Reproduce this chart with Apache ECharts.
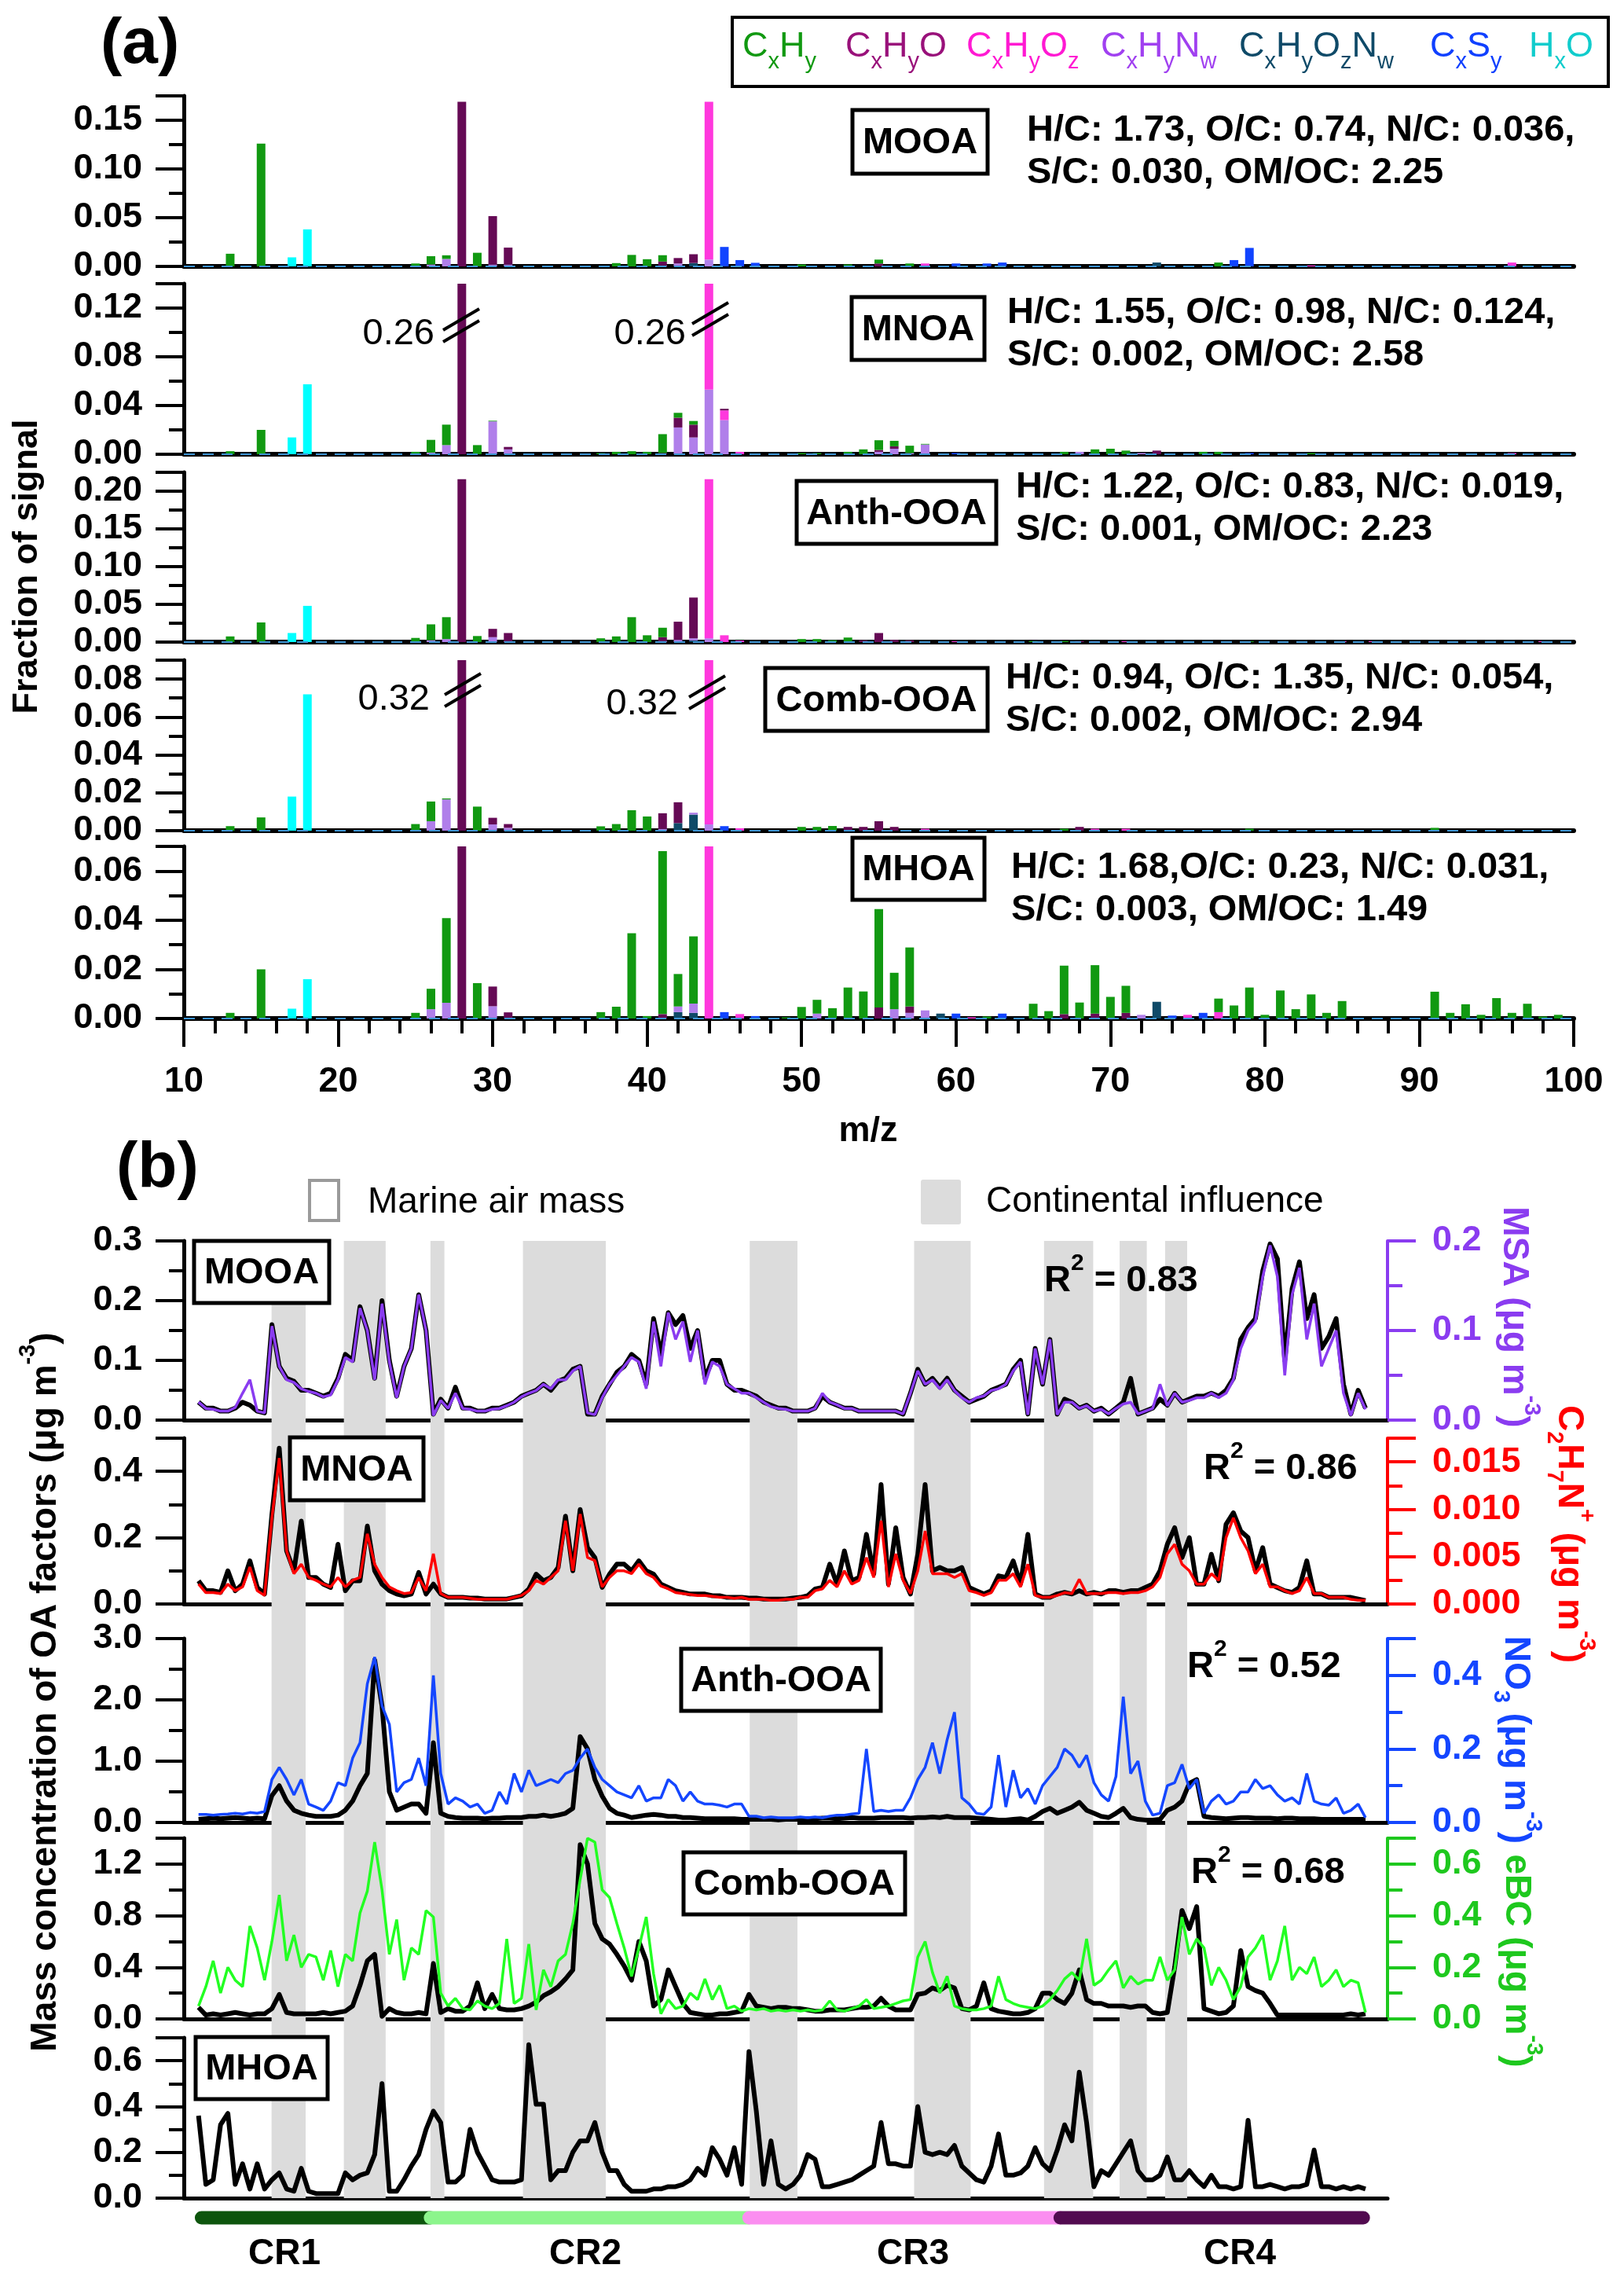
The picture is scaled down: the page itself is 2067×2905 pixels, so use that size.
<!DOCTYPE html>
<html>
<head>
<meta charset="utf-8">
<script src="https://cdn.jsdelivr.net/npm/echarts/dist/echarts.min.js"></script>
<style>
html,body{margin:0;padding:0;background:#fff}
#chart{width:2067px;height:2905px}
</style>
</head>
<body>
<div id="chart"></div>
<script>
var FONT = 'Arial, "Liberation Sans", Helvetica, sans-serif';

// ---------------- panel (a): fraction of signal, [m/z, value] per ion family
var MOOA_CH   = [[13,.013],[15,.126],[25,.003],[26,.0085],[27,.0037],[29,.014],[38,.0034],[39,.0118],[40,.0074],[41,.0065],[50,.002],[53,.002],[55,.004],[57,.003],[77,.004],[97,.001]];
var MOOA_CHO  = [[28,.169],[30,.0496],[31,.0173],[41,.004],[42,.0056],[43,.009],[55,.003]];
var MOOA_CHOZ = [[44,.162],[58,.003],[83,.001],[96,.004]];
var MOOA_CHN  = [[26,.002],[27,.0077],[30,.002],[31,.002],[41,.001],[42,.003],[44,.007]];
var MOOA_CHON = [[43,.0035],[73,.004]];
var MOOA_CS   = [[45,.02],[46,.0065],[47,.0037],[60,.003],[62,.003],[63,.004],[78,.0065],[79,.019]];
var MOOA_HO   = [[17,.0093],[18,.038]];

var MNOA_CH   = [[13,.0025],[15,.02],[25,.002],[26,.0105],[27,.0168],[29,.0075],[30,.0005],[37,.001],[38,.002],[39,.0025],[40,.002],[41,.0155],[42,.004],[43,.003],[50,.001],[51,.001],[53,.002],[54,.004],[55,.008],[56,.0045],[57,.006],[58,.0005],[67,.002],[69,.004],[70,.0045],[71,.003],[76,.002],[77,.002],[83,.001]];
var MNOA_CHO  = [[28,.26],[31,.002],[41,.001],[42,.008],[43,.0105],[45,.0013],[55,.0015],[56,.002],[73,.003]];
var MNOA_CHOZ = [[44,.207],[45,.008],[46,.002],[96,.001]];
var MNOA_CHN  = [[26,.0013],[27,.0075],[30,.027],[31,.004],[42,.022],[43,.0138],[44,.053],[45,.028],[55,.002],[56,.0045],[57,.001],[58,.008],[68,.002],[72,.001]];
var MNOA_CHON = [];
var MNOA_CS   = [[47,.0005],[60,.001],[79,.001]];
var MNOA_HO   = [[17,.0138],[18,.0575]];

var ANTH_CH   = [[13,.0075],[15,.026],[25,.0055],[26,.021],[27,.029],[29,.008],[37,.005],[38,.0075],[39,.033],[40,.009],[41,.0125],[50,.004],[51,.004],[52,.0025],[53,.006],[65,.0015],[67,.0015],[79,.001],[91,.001]];
var ANTH_CHO  = [[28,.216],[30,.011],[31,.0105],[41,.005],[42,.024],[43,.054],[54,.0025],[55,.012],[56,.003],[57,.0025],[68,.0015],[69,.0015]];
var ANTH_CHOZ = [[44,.211],[45,.009],[46,.002],[60,.001],[71,.001],[85,.001],[87,.001],[98,.001]];
var ANTH_CHN  = [[26,.0025],[27,.004],[30,.0065],[31,.0015],[41,.0015],[42,.003],[43,.003],[44,.005]];
var ANTH_CHON = [[43,.002]];
var ANTH_CS   = [];
var ANTH_HO   = [[17,.012],[18,.048]];

var COMB_CH   = [[13,.0024],[15,.007],[25,.0035],[26,.0104],[27,.0005],[29,.0127],[37,.0023],[38,.0035],[39,.0108],[40,.0075],[50,.002],[51,.002],[52,.0025],[67,.001],[79,.001],[91,.0015]];
var COMB_CHO  = [[28,.32],[30,.0035],[31,.002],[41,.0082],[42,.011],[53,.002],[54,.002],[55,.005],[56,.002],[68,.002]];
var COMB_CHOZ = [[44,.3167],[46,.0013],[58,.001],[69,.001],[71,.001]];
var COMB_CHN  = [[26,.005],[27,.0165],[30,.0033],[31,.0015],[41,.001],[43,.001],[44,.0033]];
var COMB_CHON = [[42,.004],[43,.0085]];
var COMB_CS   = [[45,.0024]];
var COMB_HO   = [[17,.018],[18,.072]];

var MHOA_CH   = [[13,.0023],[15,.02],[25,.0023],[26,.0083],[27,.0344],[29,.0144],[37,.0026],[38,.0048],[39,.0347],[40,.001],[41,.0663],[42,.0132],[43,.0273],[49,.0005],[50,.0047],[51,.0056],[52,.0042],[53,.0126],[54,.011],[55,.040],[56,.0148],[57,.024],[62,.0008],[65,.006],[66,.003],[67,.0197],[68,.0065],[69,.0197],[70,.0088],[71,.011],[77,.0055],[78,.0053],[79,.0126],[80,.0015],[81,.0114],[82,.0038],[83,.0098],[84,.0023],[85,.0071],[91,.0109],[92,.0023],[93,.0058],[94,.0015],[95,.0083],[96,.0023],[97,.006],[98,.0008],[99,.0015]];
var MHOA_CHO  = [[28,.075],[30,.008],[31,.0025],[41,.0018],[55,.0045],[57,.0026],[67,.0018],[69,.002],[71,.0023]];
var MHOA_CHOZ = [[44,.075],[46,.0018],[61,.0005],[75,.0015],[77,.0026]];
var MHOA_CHN  = [[26,.0038],[27,.0064],[30,.005],[42,.0023],[43,.0038],[51,.002],[56,.0038],[57,.0023],[58,.0033],[72,.0015]];
var MHOA_CHON = [[42,.0026],[43,.0023],[59,.002],[73,.0068]];
var MHOA_CS   = [[45,.0026],[47,.001],[60,.002],[63,.002],[74,.0012],[76,.0023]];
var MHOA_HO   = [[17,.004],[18,.016]];

// ---------------- panel (b): time series (sample index 2..161)
var MOOA_TS = [.03,.02,.02,.015,.015,.02,.03,.025,.015,.012,
 .16,.09,.07,.065,.05,.05,.045,.04,.045,.07,
 .11,.1,.19,.15,.07,.2,.1,.04,.09,.12,
 .21,.15,.01,.035,.02,.055,.02,.02,.015,.015,
 .02,.02,.025,.03,.04,.045,.05,.06,.05,.065,
 .07,.085,.09,.01,.01,.04,.06,.08,.09,.11,
 .1,.06,.17,.11,.18,.16,.175,.12,.15,.07,
 .1,.1,.06,.05,.05,.045,.04,.03,.025,.02,
 .02,.015,.015,.015,.02,.04,.03,.025,.02,.02,
 .015,.015,.015,.015,.015,.015,.01,.045,.085,.06,
 .07,.055,.07,.05,.04,.03,.035,.04,.05,.055,
 .06,.085,.1,.01,.12,.06,.135,.01,.035,.03,
 .02,.025,.015,.02,.01,.02,.03,.07,.01,.015,
 .02,.035,.025,.045,.03,.035,.04,.04,.045,.04,
 .05,.07,.135,.155,.17,.25,.295,.27,.1,.22,
 .265,.17,.21,.12,.14,.17,.06,.01,.05,.02];
var MSA_TS = [.02,.013,.012,.01,.01,.014,.03,.045,.01,.008,
 .105,.06,.045,.042,.035,.032,.03,.026,.028,.045,
 .07,.065,.125,.1,.045,.13,.065,.025,.06,.08,
 .14,.1,.005,.022,.013,.03,.013,.012,.01,.01,
 .012,.013,.016,.02,.026,.03,.033,.04,.035,.045,
 .045,.055,.06,.008,.006,.025,.04,.05,.06,.07,
 .065,.035,.11,.06,.12,.09,.11,.065,.1,.04,
 .065,.06,.04,.035,.03,.03,.025,.02,.015,.013,
 .012,.01,.01,.01,.013,.03,.02,.017,.013,.013,
 .01,.01,.01,.01,.01,.01,.007,.03,.055,.04,
 .045,.035,.045,.033,.025,.02,.025,.027,.033,.035,
 .04,.055,.065,.006,.08,.04,.09,.006,.02,.02,
 .013,.016,.01,.012,.007,.013,.018,.02,.007,.01,
 .013,.04,.016,.03,.02,.022,.025,.025,.03,.025,
 .03,.045,.08,.1,.11,.16,.195,.16,.05,.14,
 .17,.09,.13,.06,.08,.1,.03,.005,.03,.012];
var MNOA_TS = [.07,.04,.04,.035,.1,.04,.06,.13,.05,.03,
 .27,.47,.16,.1,.25,.08,.08,.06,.05,.18,
 .04,.07,.07,.235,.1,.06,.04,.03,.025,.03,
 .095,.03,.06,.03,.02,.02,.02,.018,.018,.015,
 .015,.015,.015,.02,.025,.045,.09,.07,.08,.11,
 .265,.1,.285,.17,.14,.05,.09,.12,.12,.1,
 .13,.1,.09,.06,.05,.04,.035,.03,.03,.03,
 .025,.025,.02,.02,.02,.018,.018,.015,.015,.015,
 .015,.018,.02,.025,.045,.05,.12,.06,.16,.07,
 .08,.21,.09,.36,.06,.23,.08,.03,.15,.36,
 .1,.11,.1,.1,.11,.05,.04,.03,.04,.085,
 .08,.13,.06,.21,.03,.02,.02,.03,.035,.03,
 .04,.03,.035,.03,.04,.04,.035,.04,.04,.05,
 .06,.1,.18,.23,.14,.2,.06,.06,.15,.07,
 .24,.275,.22,.2,.1,.17,.06,.05,.04,.035,
 .05,.13,.03,.03,.02,.02,.02,.02,.015,.01];
var C2H7N_TS = [.0021,.0012,.0012,.0011,.0021,.0014,.0018,.0039,.0014,.0009,
 .0091,.0154,.0056,.0032,.0042,.0028,.0025,.0021,.0018,.0028,
 .0018,.0025,.0028,.0074,.0042,.0028,.0018,.0014,.0011,.0012,
 .0028,.0014,.0053,.0011,.0007,.0007,.0007,.0006,.0005,.0005,
 .0005,.0005,.0005,.0007,.0009,.0014,.0025,.0021,.0028,.0035,
 .0088,.0035,.0095,.0049,.0046,.0018,.0028,.0035,.0035,.0032,
 .0042,.0032,.0028,.0019,.0016,.0012,.0011,.001,.0009,.0009,
 .0008,.0007,.0007,.0006,.0007,.0005,.0005,.0005,.0004,.0004,
 .0005,.0005,.0007,.0007,.0014,.0016,.0025,.0018,.0035,.0021,
 .0025,.0049,.0028,.0088,.0018,.0053,.0025,.0011,.0035,.0077,
 .0032,.0032,.0032,.0028,.0032,.0014,.0012,.0009,.0012,.0025,
 .0025,.0032,.0018,.0042,.0009,.0007,.0007,.0009,.0012,.0011,
 .0026,.0011,.0011,.0011,.0012,.0012,.0011,.0012,.0012,.0014,
 .0018,.0028,.0053,.0063,.0042,.0035,.0021,.0021,.0032,.0025,
 .007,.0091,.007,.0056,.0032,.0042,.0018,.0018,.0014,.0011,
 .0014,.0028,.0011,.0011,.0007,.0007,.0007,.0005,.0004,.0004];
var ANTH_TS = [.05,.06,.07,.06,.07,.08,.07,.06,.07,.06,
 .44,.6,.35,.2,.15,.12,.1,.1,.1,.12,
 .2,.35,.6,.8,2.65,1.9,.5,.2,.25,.3,
 .3,.15,1.3,.15,.1,.08,.07,.07,.07,.06,
 .07,.07,.08,.08,.08,.1,.1,.12,.1,.12,
 .15,.23,1.4,1.2,.7,.43,.23,.15,.12,.08,
 .1,.12,.13,.12,.1,.1,.08,.08,.07,.06,
 .06,.06,.06,.06,.05,.05,.05,.05,.05,.04,
 .05,.05,.05,.06,.06,.07,.07,.06,.07,.08,
 .07,.07,.07,.08,.08,.08,.08,.07,.08,.08,
 .09,.08,.1,.08,.08,.08,.07,.06,.05,.04,
 .04,.05,.06,.04,.1,.18,.23,.15,.2,.25,
 .33,.2,.15,.1,.08,.15,.23,.08,.05,.04,
 .04,.05,.2,.25,.35,.64,.7,.1,.08,.07,
 .06,.07,.08,.08,.07,.07,.07,.06,.07,.07,
 .06,.06,.06,.05,.05,.05,.05,.05,.05,.05];
var NO3_TS = [.022,.022,.02,.022,.023,.025,.023,.027,.025,.03,
 .117,.15,.117,.075,.117,.05,.042,.033,.058,.108,
 .1,.175,.217,.377,.45,.317,.267,.083,.108,.117,
 .175,.1,.4,.133,.05,.067,.058,.042,.05,.025,
 .033,.083,.05,.133,.083,.142,.1,.108,.117,.108,
 .133,.142,.175,.2,.15,.117,.1,.083,.075,.067,
 .1,.058,.067,.067,.117,.1,.058,.083,.058,.05,
 .05,.047,.042,.05,.05,.017,.017,.013,.015,.013,
 .013,.013,.015,.013,.015,.013,.017,.02,.02,.023,
 .025,.2,.03,.033,.03,.033,.033,.067,.117,.15,
 .217,.133,.225,.3,.067,.05,.025,.022,.042,.183,
 .042,.142,.067,.092,.05,.1,.125,.15,.2,.183,
 .15,.183,.108,.075,.058,.125,.342,.133,.167,.058,
 .02,.025,.1,.108,.158,.092,.117,.025,.058,.075,
 .05,.058,.083,.083,.117,.092,.1,.075,.058,.067,
 .05,.133,.058,.05,.047,.067,.025,.033,.05,.013];
var COMB_TS = [.09,.03,.04,.03,.04,.05,.04,.03,.04,.04,
 .08,.19,.05,.04,.04,.04,.04,.05,.04,.05,
 .06,.1,.26,.45,.5,.02,.08,.05,.04,.04,
 .05,.04,.43,.05,.08,.06,.06,.1,.28,.08,
 .19,.08,.07,.07,.08,.1,.13,.18,.21,.25,
 .31,.38,1.35,1.2,.74,.62,.58,.5,.41,.3,
 .6,.45,.1,.15,.38,.25,.12,.05,.04,.03,
 .03,.04,.04,.05,.06,.19,.1,.09,.08,.09,
 .09,.08,.08,.07,.06,.06,.07,.07,.07,.08,
 .09,.09,.1,.16,.1,.07,.07,.07,.19,.2,
 .24,.22,.26,.24,.08,.07,.1,.28,.08,.06,
 .05,.04,.04,.05,.08,.2,.2,.15,.12,.2,
 .38,.15,.12,.12,.1,.1,.1,.09,.1,.1,
 .05,.04,.05,.4,.84,.7,.87,.08,.06,.04,
 .05,.1,.53,.25,.22,.2,.12,.03,.03,.03,
 .03,.03,.03,.03,.03,.03,.03,.04,.03,.04];
var EBC_TS = [.05,.125,.225,.1,.2,.15,.125,.36,.275,.15,
 .3,.48,.225,.325,.2,.25,.24,.15,.265,.125,
 .25,.225,.41,.495,.685,.5,.25,.385,.15,.275,
 .25,.42,.395,.1,.05,.08,.04,.035,.07,.05,
 .04,.06,.31,.06,.08,.29,.035,.19,.125,.225,
 .25,.37,.54,.7,.685,.5,.47,.37,.275,.165,
 .275,.395,.175,.02,.075,.04,.05,.1,.075,.155,
 .075,.13,.04,.05,.03,.04,.035,.04,.03,.035,
 .03,.035,.03,.035,.03,.035,.07,.035,.03,.04,
 .05,.075,.04,.045,.05,.06,.07,.075,.24,.3,
 .18,.1,.165,.05,.04,.035,.035,.04,.05,.165,
 .075,.06,.05,.045,.04,.05,.075,.11,.155,.18,
 .15,.31,.13,.15,.19,.225,.12,.165,.135,.15,
 .15,.24,.15,.19,.395,.25,.31,.275,.13,.2,
 .15,.075,.125,.24,.275,.325,.15,.225,.36,.15,
 .2,.175,.24,.125,.15,.19,.125,.15,.14,.025];
var MHOA_TS = [.36,.06,.08,.32,.37,.06,.15,.04,.15,.04,
 .08,.11,.04,.03,.13,.03,.02,.02,.02,.02,
 .11,.08,.1,.11,.19,.5,.03,.03,.08,.14,
 .19,.3,.38,.33,.07,.07,.1,.3,.2,.14,
 .08,.07,.07,.07,.08,.67,.41,.41,.08,.12,
 .12,.2,.25,.25,.33,.2,.12,.12,.06,.03,
 .03,.03,.04,.04,.05,.05,.06,.08,.13,.1,
 .22,.17,.1,.22,.06,.64,.38,.06,.25,.06,
 .04,.06,.1,.19,.17,.05,.05,.06,.07,.08,
 .1,.12,.14,.33,.15,.15,.14,.14,.4,.2,
 .19,.2,.19,.23,.14,.11,.08,.07,.14,.28,
 .1,.1,.11,.14,.22,.15,.12,.21,.32,.25,
 .55,.33,.05,.12,.1,.15,.2,.25,.12,.08,
 .08,.1,.18,.08,.08,.12,.08,.05,.1,.05,
 .05,.04,.05,.34,.05,.05,.06,.05,.04,.05,
 .05,.06,.21,.05,.05,.04,.05,.04,.05,.04];

// continental-influence periods and cruise legs, in sample index units
var BANDS = [[11.95,16.6],[21.8,27.5],[33.6,35.5],[46.2,57.5],[77.1,83.6],[99.5,107.2],[117.2,123.9],[127.5,131.2],[133.7,136.7]];
var LEGS = [['CR1',2.4,33.6,'#0d550d'],['CR2',33.6,77,'#8cf58c'],['CR3',77,119.4,'#fb8ef0'],['CR4',119.4,160.7,'#520a50']];

var tIndex = [];
for (var k = 0; k < MOOA_TS.length; k++) tIndex.push(k + 2);
var mzCats = [];
for (var z = 10; z <= 100; z++) mzCats.push(String(z));

// ---------------- styling tables
var FAMS = [ // stacking order, bottom to top
  {key:'CHON', color:'#0f4a68'},
  {key:'CS',   color:'#1144ff'},
  {key:'HO',   color:'#00ffff'},
  {key:'CHN',  color:'#b07fea'},
  {key:'CHOZ', color:'#ff38dd'},
  {key:'CHO',  color:'#650a55'},
  {key:'CH',   color:'#119911'}
];

var A_PANELS = [
  {name:'MOOA', top:122, h:217, max:.175, step:.05, box:[1085,140,172,81], st:[1307,166],
   lines:['H/C: 1.73, O/C: 0.74, N/C: 0.036,','S/C: 0.030, OM/OC: 2.25'],
   fam:{CH:MOOA_CH,CHO:MOOA_CHO,CHOZ:MOOA_CHOZ,CHN:MOOA_CHN,CHON:MOOA_CHON,CS:MOOA_CS,HO:MOOA_HO}},
  {name:'MNOA', top:361, h:217, max:.14, step:.04, box:[1084,378,169,80], st:[1282,398],
   lines:['H/C: 1.55, O/C: 0.98, N/C: 0.124,','S/C: 0.002, OM/OC: 2.58'],
   fam:{CH:MNOA_CH,CHO:MNOA_CHO,CHOZ:MNOA_CHOZ,CHN:MNOA_CHN,CHON:MNOA_CHON,CS:MNOA_CS,HO:MNOA_HO}},
  {name:'Anth-OOA', top:601, h:216, max:.225, step:.05, box:[1014,612,254,80], st:[1293,620],
   lines:['H/C: 1.22, O/C: 0.83, N/C: 0.019,','S/C: 0.001, OM/OC: 2.23'],
   fam:{CH:ANTH_CH,CHO:ANTH_CHO,CHOZ:ANTH_CHOZ,CHN:ANTH_CHN,CHON:ANTH_CHON,CS:ANTH_CS,HO:ANTH_HO}},
  {name:'Comb-OOA', top:840, h:217, max:.09, step:.02, box:[974,850,283,80], st:[1280,863],
   lines:['H/C: 0.94, O/C: 1.35, N/C: 0.054,','S/C: 0.002, OM/OC: 2.94'],
   fam:{CH:COMB_CH,CHO:COMB_CHO,CHOZ:COMB_CHOZ,CHN:COMB_CHN,CHON:COMB_CHON,CS:COMB_CS,HO:COMB_HO}},
  {name:'MHOA', top:1077, h:219, max:.07, step:.02, box:[1085,1066,168,79], st:[1287,1104],
   lines:['H/C: 1.68,O/C: 0.23, N/C: 0.031,','S/C: 0.003, OM/OC: 1.49'],
   fam:{CH:MHOA_CH,CHO:MHOA_CHO,CHOZ:MHOA_CHOZ,CHN:MHOA_CHN,CHON:MHOA_CHON,CS:MHOA_CS,HO:MHOA_HO}}
];

var B_PANELS = [
  {name:'MOOA', top:1579, h:228, max:.3, step:.1, oa:MOOA_TS, tr:MSA_TS, trColor:'#8a3cf0', axColor:'#8a3cf0', trMax:.2, trStep:.1, trDig:1, box:[247,1579,172,79], r2:['0.83',1329,1630]},
  {name:'MNOA', top:1830, h:211, max:.5, step:.2, oa:MNOA_TS, tr:C2H7N_TS, trColor:'#ff0000', axColor:'#ff0000', trMax:.0175, trStep:.005, trDig:3, box:[369,1829,170,80], r2:['0.86',1532,1869]},
  {name:'Anth-OOA', top:2085, h:234, max:3, step:1, oa:ANTH_TS, tr:NO3_TS, trColor:'#1446ff', axColor:'#1446ff', trMax:.5, trStep:.2, trDig:1, box:[867,2098,254,79], r2:['0.52',1511,2121]},
  {name:'Comb-OOA', top:2339, h:230, max:1.4, step:.4, oa:COMB_TS, tr:EBC_TS, trColor:'#22ff22', axColor:'#1ec81e', trMax:.7, trStep:.2, trDig:1, box:[870,2357,282,79], r2:['0.68',1516,2383]},
  {name:'MHOA', top:2593, h:204, max:.7, step:.2, oa:MHOA_TS, tr:null, box:[249,2592,168,79]}
];

// ---------------- helpers
function dense(list) {
  var m = {}, out = [];
  list.forEach(function (p) { m[p[0]] = p[1]; });
  for (var z = 10; z <= 100; z++) out.push(m[z] || 0);
  return out;
}
function pairs(vals) { return vals.map(function (v, i) { return [tIndex[i], v]; }); }
function onStep(v, step) { var r = v / step; return Math.abs(r - Math.round(r)) < 1e-6; }

function valueAxis(gi, max, step, dig, color, right) {
  return {
    gridIndex: gi, type: 'value', min: 0, max: max, interval: step, position: right ? 'right' : 'left',
    axisLine: {show: true, onZero: false, lineStyle: {color: color, width: right ? 4 : 5}},
    axisTick: {show: true, length: 36, lineStyle: {color: color, width: 4}},
    minorTick: {show: true, splitNumber: 2, length: 19, lineStyle: {color: color, width: 4}},
    splitLine: {show: false}, minorSplitLine: {show: false},
    axisLabel: {color: color, fontSize: 45, fontWeight: 'bold', fontFamily: FONT, margin: right ? 57 : 53,
      formatter: function (v) { return onStep(v, step) ? v.toFixed(dig) : ''; }}
  };
}

function txt(x, y, text, o) {
  o = o || {};
  var st = {
    text: text, fill: o.color || '#000',
    fontSize: o.size || 47, fontWeight: o.weight || 'bold', fontFamily: FONT,
    align: o.align || 'left', verticalAlign: 'middle',
    textAlign: o.align || 'left', textVerticalAlign: 'middle'
  };
  if (o.rich) st.rich = o.rich;
  return {type: 'text', x: x, y: y, rotation: o.rotation || 0, z: 30, silent: true, style: st};
}
function boxLabel(b, label) {
  return [
    {type: 'rect', z: 25, silent: true, shape: {x: b[0], y: b[1], width: b[2], height: b[3]},
     style: {fill: '#fff', stroke: '#000', lineWidth: 5}},
    txt(b[0] + b[2] / 2, b[1] + b[3] / 2 + 2, label, {align: 'center', size: 47})
  ];
}
function richSet(size, weight, color) {
  return {
    b:   {fontSize: size, fontWeight: weight, fontFamily: FONT, fill: color, color: color},
    s:   {fontSize: Math.round(size * 0.64), fontWeight: weight, fontFamily: FONT, fill: color, color: color, padding: [38, 0, 0, 0]},
    sup: {fontSize: Math.round(size * 0.64), fontWeight: weight, fontFamily: FONT, fill: color, color: color, padding: [0, 0, 44, 0]}
  };
}

// ---------------- build option
var grids = [], xAxes = [], yAxes = [], series = [], graphics = [];
var CAT_AXIS0 = 12; // category axes for the bars come after the 12 other x axes

A_PANELS.forEach(function (p, i) {
  var last = i === A_PANELS.length - 1;
  grids.push({left: 234, right: 64, top: p.top, height: p.h});
  xAxes.push({
    gridIndex: i, type: 'value', min: 10, max: 100, interval: 10, position: 'bottom',
    axisLine: {onZero: false, lineStyle: {color: '#000', width: 6}},
    axisTick: {show: last, length: 36, lineStyle: {color: '#000', width: 4}},
    minorTick: {show: last, splitNumber: 5, length: 19, lineStyle: {color: '#000', width: 4}},
    axisLabel: {show: last, color: '#000', fontSize: 45, fontWeight: 'bold', fontFamily: FONT, margin: 58},
    splitLine: {show: false}
  });
  yAxes.push(valueAxis(i, p.max, p.step, 2, '#000', false));
  FAMS.forEach(function (f, fi) {
    var s = {
      type: 'bar', xAxisIndex: CAT_AXIS0 + i, yAxisIndex: i, stack: 'ms' + i, barWidth: 11, clip: true,
      data: dense(p.fam[f.key]), itemStyle: {color: f.color}, silent: true, z: 2
    };
    if (fi === 0) {
      s.markLine = {silent: true, symbol: 'none', label: {show: false}, animation: false,
        lineStyle: {color: '#3c93d2', type: [14, 10], width: 2}, data: [{yAxis: 0}]};
    }
    series.push(s);
  });
  graphics = graphics.concat(boxLabel(p.box, p.name));
  graphics.push(txt(p.st[0], p.st[1], p.lines[0], {size: 47}));
  graphics.push(txt(p.st[0], p.st[1] + 54, p.lines[1], {size: 47}));
});

B_PANELS.forEach(function (p, j) {
  var gi = 5 + j;
  grids.push({left: 234, right: 301, top: p.top, height: p.h});
  xAxes.push({gridIndex: gi, type: 'value', min: 0, max: 164,
    axisLine: {onZero: false, lineStyle: {color: '#000', width: 5}},
    axisTick: {show: false}, axisLabel: {show: false}, splitLine: {show: false}});
  yAxes.push(valueAxis(gi, p.max, p.step, 1, '#000', false));
  series.push({type: 'line', xAxisIndex: gi, yAxisIndex: gi, data: pairs(p.oa), symbol: 'none',
    lineStyle: {color: '#000', width: 6, join: 'round'}, z: 3, silent: true});
  graphics = graphics.concat(boxLabel(p.box, p.name));
});
B_PANELS.forEach(function (p, j) {
  if (!p.tr) return;
  yAxes.push(valueAxis(5 + j, p.trMax, p.trStep, p.trDig, p.axColor, true));
  series.push({type: 'line', xAxisIndex: 5 + j, yAxisIndex: yAxes.length - 1, data: pairs(p.tr), symbol: 'none',
    lineStyle: {color: p.trColor, width: 3.5}, z: 4, silent: true});
  graphics.push(txt(p.r2[1], p.r2[2], '{b|R}{sup|2}{b| = ' + p.r2[0] + '}', {size: 47, rich: richSet(47, 'bold', '#000')}));
});

// continental influence shading (spans all of panel b)
grids.push({left: 234, right: 301, top: 1579, height: 1218});
xAxes.push({gridIndex: 10, type: 'value', min: 0, max: 164, show: false});
yAxes.push({gridIndex: 10, type: 'value', min: 0, max: 1, show: false});
series.push({type: 'line', xAxisIndex: 10, yAxisIndex: yAxes.length - 1, data: [[0, -1]], symbol: 'none',
  lineStyle: {opacity: 0}, z: 1, silent: true,
  markArea: {silent: true, itemStyle: {color: '#dcdcdc'},
    data: BANDS.map(function (b) { return [{xAxis: b[0]}, {xAxis: b[1]}]; })}});

// cruise legs bar
grids.push({left: 234, right: 301, top: 2813, height: 18});
xAxes.push({gridIndex: 11, type: 'value', min: 0, max: 164, show: false});
yAxes.push({gridIndex: 11, type: 'value', min: -1, max: 1, show: false});
LEGS.forEach(function (l, i) {
  series.push({type: 'line', xAxisIndex: 11, yAxisIndex: yAxes.length - 1, data: [[l[1], 0], [l[2], 0]],
    symbol: 'none', lineStyle: {color: l[3], width: 17, cap: 'round'}, z: 3 + i, silent: true});
});

// hidden m/z category axes that carry the stacked bars
A_PANELS.forEach(function (p, i) {
  xAxes.push({gridIndex: i, type: 'category', data: mzCats, boundaryGap: false, show: false});
});

// ---------------- texts of panel (a)
graphics.push(txt(128, 57, '(a)', {size: 82}));
graphics.push({type: 'rect', z: 25, silent: true, shape: {x: 932, y: 22, width: 1115, height: 88},
  style: {fill: '#fff', stroke: '#000', lineWidth: 4}});
[
  [945,  '{b|C}{s|x}{b|H}{s|y}', '#119911'],
  [1076, '{b|C}{s|x}{b|H}{s|y}{b|O}', '#99117a'],
  [1230, '{b|C}{s|x}{b|H}{s|y}{b|O}{s|z}', '#ff19d2'],
  [1401, '{b|C}{s|x}{b|H}{s|y}{b|N}{s|w}', '#a040f0'],
  [1577, '{b|C}{s|x}{b|H}{s|y}{b|O}{s|z}{b|N}{s|w}', '#0f4a68'],
  [1820, '{b|C}{s|x}{b|S}{s|y}', '#1040ff'],
  [1946, '{b|H}{s|x}{b|O}', '#10cccc']
].forEach(function (l) {
  graphics.push(txt(l[0], 60, l[1], {size: 45, weight: 'normal', color: l[2], rich: richSet(45, 'normal', l[2])}));
});
graphics.push(txt(35, 721, 'Fraction of signal', {size: 45, align: 'center', rotation: Math.PI / 2}));
graphics.push(txt(1105, 1440, 'm/z', {size: 45, align: 'center'}));

// axis break marks for the clipped m/z 28 and 44 peaks
[[587, 414, '0.26', 553, 425], [904, 406, '0.26', 873, 425], [589, 878, '0.32', 547, 890], [900, 881, '0.32', 863, 896]].forEach(function (b) {
  graphics.push({type: 'line', z: 28, silent: true, shape: {x1: b[0] - 23, y1: b[1] + 6, x2: b[0] + 23, y2: b[1] - 21}, style: {stroke: '#000', lineWidth: 4}});
  graphics.push({type: 'line', z: 28, silent: true, shape: {x1: b[0] - 23, y1: b[1] + 21, x2: b[0] + 23, y2: b[1] - 6}, style: {stroke: '#000', lineWidth: 4}});
  graphics.push(txt(b[3], b[4], b[2], {size: 47, weight: 'normal', align: 'right'}));
});

// ---------------- texts of panel (b)
graphics.push(txt(148, 1487, '(b)', {size: 82}));
graphics.push({type: 'rect', z: 25, silent: true, shape: {x: 394, y: 1502, width: 37, height: 51},
  style: {fill: 'none', stroke: '#9a9a9a', lineWidth: 4}});
graphics.push(txt(468, 1530, 'Marine air mass', {size: 46, weight: 'normal'}));
graphics.push({type: 'rect', z: 25, silent: true, shape: {x: 1172, y: 1501, width: 51, height: 57, r: 3},
  style: {fill: '#dcdcdc'}});
graphics.push(txt(1255, 1529, 'Continental influence', {size: 46, weight: 'normal'}));

graphics.push(txt(58, 2153, '{b|Mass concentration of OA factors (μg m}{sup|-3}{b|)}',
  {size: 46, align: 'center', rotation: Math.PI / 2, rich: richSet(46, 'bold', '#000')}));
graphics.push(txt(1927, 1676, '{b|MSA (μg m}{sup|-3}{b|)}',
  {size: 46, align: 'center', rotation: -Math.PI / 2, color: '#8a3cf0', rich: richSet(46, 'bold', '#8a3cf0')}));
graphics.push(txt(1997, 1952, '{b|C}{s|2}{b|H}{s|7}{b|N}{sup|+}{b| (μg m}{sup|-3}{b|)}',
  {size: 46, align: 'center', rotation: -Math.PI / 2, color: '#ff0000', rich: richSet(46, 'bold', '#ff0000')}));
graphics.push(txt(1929, 2214, '{b|NO}{s|3}{b| (μg m}{sup|-3}{b|)}',
  {size: 46, align: 'center', rotation: -Math.PI / 2, color: '#1446ff', rich: richSet(46, 'bold', '#1446ff')}));
graphics.push(txt(1930, 2495, '{b|eBC (μg m}{sup|-3}{b|)}',
  {size: 46, align: 'center', rotation: -Math.PI / 2, color: '#1ec81e', rich: richSet(46, 'bold', '#1ec81e')}));

[[362, 'CR1'], [745, 'CR2'], [1162, 'CR3'], [1578, 'CR4']].forEach(function (c) {
  graphics.push(txt(c[0], 2868, c[1], {size: 46, align: 'center'}));
});

var chart = echarts.init(document.getElementById('chart'), null, {renderer: 'canvas'});
chart.setOption({
  animation: false,
  backgroundColor: '#fff',
  textStyle: {fontFamily: FONT},
  grid: grids,
  xAxis: xAxes,
  yAxis: yAxes,
  series: series,
  graphic: {elements: graphics}
});
</script>
</body>
</html>
